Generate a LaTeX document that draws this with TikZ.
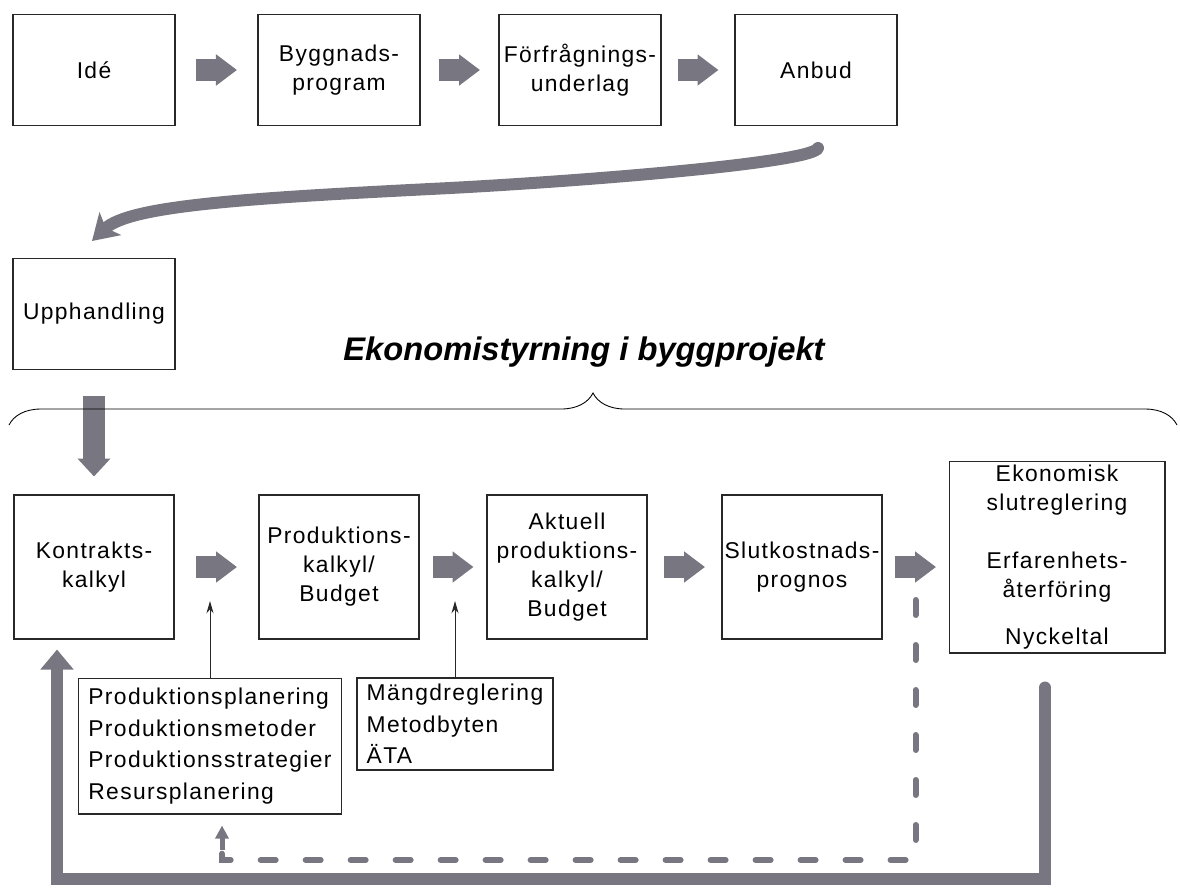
\documentclass[tikz,border=0pt]{standalone}
\usepackage{fontspec}
\setmainfont{Liberation Sans}[LetterSpace=6]
\newfontfamily\titlefont{Liberation Sans}
\usetikzlibrary{arrows.meta,positioning,calc,decorations.pathreplacing}
\definecolor{ekoGray}{RGB}{120,118,128}
\definecolor{ekoLine}{RGB}{40,40,40}

\begin{document}
\begin{tikzpicture}[x=0.02cm, y=-0.02cm,
    box/.style={rectangle, draw=ekoLine, line width=0.6pt, align=center,
                minimum width=3.24cm, minimum height=2.22cm, inner sep=0pt,
                font=\fontsize{13}{16.5}\selectfont},
    mainbox/.style={box, minimum width=3.2cm, minimum height=2.88cm},
    listbox/.style={rectangle, draw=ekoLine, line width=0.6pt, align=left,
                inner sep=0pt, font=\fontsize{13}{17.9}\selectfont},
    fat/.style={ekoGray, line width=0.44cm, -{Triangle[length=0.42cm, width=0.6cm]},
                shorten <=#1, shorten >=#1},
    pin/.style={ekoLine, line width=0.5pt, -{Stealth[length=7pt, width=4pt]}},
    bigline/.style={ekoGray, line width=0.24cm},
    dashline/.style={ekoGray, line width=0.12cm, line cap=round, dash pattern=on 0.3cm off 0.6cm}
  ]
  \useasboundingbox (0,0) rectangle (1180,887);

  \node[box] (idea)  at (94,70)  {Idé};
  \node[box] (bygg)  at (339,70) {Byggnads-\\program};
  \node[box] (forfr) at (580,70) {Förfrågnings-\\underlag};
  \node[box] (anbud) at (816,70) {Anbud};
  \draw[fat=0.41cm] (idea)  -- (bygg);
  \draw[fat=0.37cm] (bygg)  -- (forfr);
  \draw[fat=0.32cm] (forfr) -- (anbud);

  \node[box] (upph) at (94,314) {Upphandling};
  \draw[bigline, line cap=round, -{Stealth[length=0.5cm, width=0.62cm, inset=0.12cm]}]
    ($(anbud.south)+(2,22)$) .. controls +(-4,14) and +(150,-8) .. (450,188)
    .. controls (250,198) and (130,205) .. ($(upph.north)+(-2,-17)$);

  \node[font=\titlefont\fontsize{18.6}{20}\selectfont\bfseries\itshape] (title) at (584,352)
    {Ekonomistyrning i byggprojekt};

  \node[mainbox] (kontr) at (94,567)  {Kontrakts-\\kalkyl};
  \node[mainbox] (prod)  at (339,567) {Produktions-\\kalkyl/\\Budget};
  \node[mainbox] (akt)   at (567,567) {Aktuell\\produktions-\\kalkyl/\\Budget};
  \node[mainbox] (slut)  at (802,567) {Slutkostnads-\\prognos};
  \node[box, minimum width=4.32cm, minimum height=3.84cm] (ekon) at (1057,557)
    {Ekonomisk\\slutreglering\\[16.5pt]Erfarenhets-\\återföring\\[10pt]Nyckeltal};

  \draw[ekoGray, line width=0.44cm, -{Triangle[length=0.36cm, width=0.64cm]},
        shorten <=0.52cm, shorten >=0.36cm] (upph) -- (kontr);
  \draw[decorate, decoration={brace, amplitude=0.64cm}, line width=0.5pt]
    (9,425) -- (1177,425);

  \draw[fat=0.43cm] (kontr) -- (prod);
  \draw[fat=0.26cm] (prod)  -- (akt);
  \draw[fat=0.33cm] (akt)   -- (slut);
  \draw[fat=0.25cm] (slut)  -- (slut -| ekon.west);

  \node[listbox, minimum width=5.26cm, minimum height=2.72cm] (prodsub) at (210,746)
    {Produktionsplanering\\Produktionsmetoder\\Produktionsstrategier\\Resursplanering};
  \node[listbox, minimum width=3.92cm, minimum height=1.84cm] (mangd) at (455,724)
    {Mängdreglering\\Metodbyten\\ÄTA};

  \coordinate (p1) at ($(prodsub.north |- kontr.east)+(0,34)$);
  \coordinate (p2) at ($(mangd.north |- kontr.east)+(0,34)$);
  \draw[pin] (prodsub) -- (p1);
  \draw[pin] (mangd) -- (p2);

  \draw[bigline, line cap=round, -{Triangle[length=0.4cm, width=0.64cm]}]
    ($(ekon.south)+(-12,34)$) -- ++(0,191) -| ($(kontr.south)+(-37,10)$);

  \coordinate (dstart) at ($(slut.east)!0.5!(slut.east -| ekon.west)+(0,33)$);
  \coordinate (dend) at ($(prodsub.south)+(12,11)$);
  \draw[dashline] (dstart) -- ++(0,260) -| ($(dend)+(0,24)$);
  \draw[ekoGray, line width=0.1cm, -{Triangle[length=0.26cm, width=0.26cm]}]
    ($(dend)+(0,24)$) -- (dend);
\end{tikzpicture}
\end{document}
